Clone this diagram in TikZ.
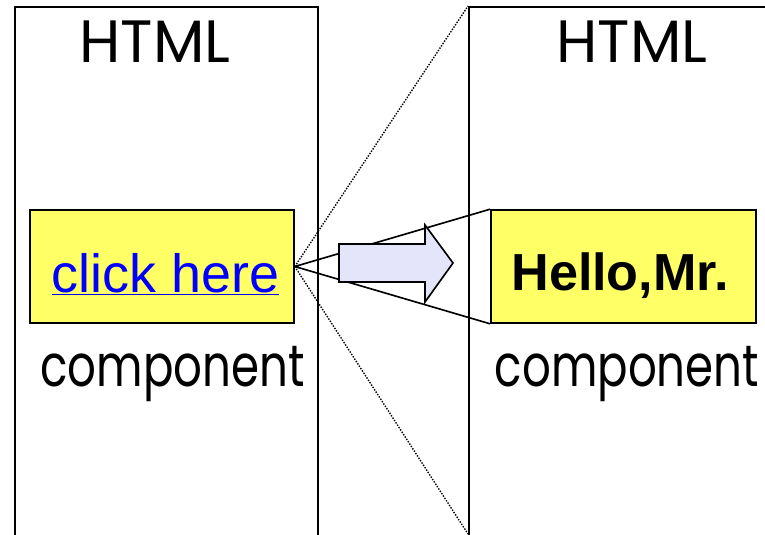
\documentclass[tikz,border=0pt]{standalone}
\usepackage{fontspec}
\setmainfont{Liberation Sans}
\newfontfamily\comicfont{Poppins}
\newfontfamily\comicnarrow[FakeStretch=0.77]{Poppins}
\definecolor{boxyellow}{RGB}{255,255,102}
\definecolor{arrowfill}{RGB}{228,228,250}
\definecolor{linkblue}{RGB}{0,0,255}

\begin{document}
\begin{tikzpicture}[x=0.03cm, y=-0.03cm, line width=1.4pt,
    panel/.style={draw, rectangle, inner sep=0pt, anchor=north west, minimum height=18cm},
    compbox/.style={draw, fill=boxyellow, inner sep=0pt, minimum height=3.39cm},
    title/.style={font=\comicfont\fontsize{51}{51}\selectfont, anchor=base, inner sep=0pt},
    complabel/.style={font=\comicnarrow\fontsize{50}{50}\selectfont, anchor=base, inner sep=0pt},
    boxtext/.style={font=\fontsize{46}{46}\selectfont, anchor=base, inner sep=0pt},
    dotline/.style={line width=1.2pt, dash pattern=on 1.2pt off 1.2pt}]

    \useasboundingbox (0,0) rectangle (765,534);
    \clip (0,0) rectangle (765,534);

    % the two html pages
    \node[panel, minimum width=9.09cm] (leftpanel) at (14,6) {};
    \node[panel, minimum width=12cm] (rightpanel) at (468,6) {};
    \coordinate (rightfoot) at (468,534);

    \node[title] (lefthtml) at (155,63) {HTML};
    \node[title] (righthtml) at (632,63) {HTML};

    % components
    \node[compbox, minimum width=7.92cm] (clickbox) at (162,266.5) {};
    \node[compbox, minimum width=7.95cm] (hellobox) at (623.5,266.5) {};

    \node[boxtext, text=linkblue] (clicktext) at (165.5,292) {\underline{click here}};
    \node[boxtext, font=\fontsize{44.5}{45}\selectfont\bfseries] (hellotext) at (620,290) {Hello,Mr.};

    \node[complabel] (leftcomp) at (172.5,386) {component};
    \node[complabel] (rightcomp) at (627,386) {component};

    % zoom lines
    \path[draw]
        (clickbox.east) -- (hellobox.north west)
        (clickbox.east) -- (hellobox.south west);
    \path[draw, dotline]
        (clickbox.east) -- (rightpanel.north west)
        (clickbox.east) -- (rightfoot);

    % block arrow
    \draw[fill=arrowfill] (339,244) -- (425,244) -- (425,225) -- (453,263)
        -- (425,302) -- (425,282) -- (339,282) -- cycle;

\end{tikzpicture}
\end{document}
